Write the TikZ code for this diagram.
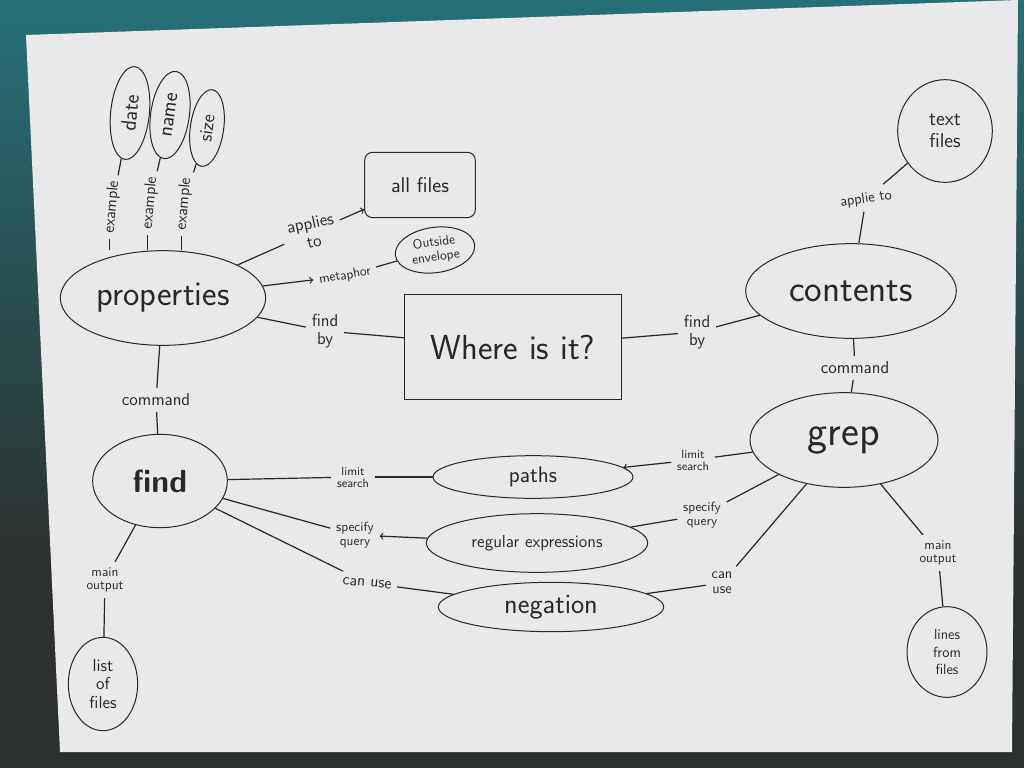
\documentclass[tikz,border=0pt]{standalone}
\usetikzlibrary{shapes.geometric}

\definecolor{ink}{RGB}{40,40,42}
\definecolor{paper}{RGB}{233,233,236}
\definecolor{bgtop}{RGB}{38,112,120}
\definecolor{bgdark}{RGB}{44,48,46}

\tikzset{every picture/.style={line width=0.75pt}}
\tikzset{
  concept/.style={draw=ink, ellipse, inner sep=0pt, text=ink, font=\sffamily},
  lbl/.style={text=ink, align=center, inner sep=4pt, font=\sffamily\fontsize{10}{10}\selectfont},
  biglbl/.style={lbl, font=\sffamily\fontsize{13}{14}\selectfont},
  link/.style={draw=ink, line width=0.9pt},
}

\begin{document}
\begin{tikzpicture}[x=0.75pt,y=0.75pt,yscale=-1]
\useasboundingbox (0,0) rectangle (1024,768);

%Background and sheet
\fill[bgdark] (0,0) rectangle (1024,768);
\shade[top color=bgtop, bottom color=bgdark] (0,0) rectangle (1024,560);
\fill[paper] (26,35) -- (1018,0) -- (1012,752) -- (60,752) -- cycle;

%Shape: Ellipse
\node[concept, minimum width=154pt, minimum height=71pt, font=\sffamily\fontsize{26}{26}\selectfont] (properties) at (163,298) {properties};
%Shape: Ellipse
\node[concept, rotate=84, minimum width=70pt, minimum height=29pt, font=\sffamily\fontsize{16}{16}\selectfont] (date) at (130,113) {date};
\node[concept, rotate=82, minimum width=66pt, minimum height=29pt, font=\sffamily\fontsize{16}{16}\selectfont] (name) at (170,115) {name};
\node[concept, rotate=82, minimum width=58pt, minimum height=25pt, font=\sffamily\fontsize{14}{14}\selectfont] (size) at (207,128) {size};
%Shape: Rectangle
\node[draw=ink, rounded corners=6pt, minimum width=83pt, minimum height=49pt, text=ink, font=\sffamily\fontsize{16}{16}\selectfont] (allfiles) at (420,185) {all files};
%Shape: Ellipse
\node[concept, rotate=8, minimum width=60pt, minimum height=34pt, align=center, font=\sffamily\fontsize{10}{11}\selectfont] (envelope) at (435,250) {Outside\\envelope};
%Shape: Rectangle
\node[draw=ink, minimum width=163pt, minimum height=79pt, text=ink, font=\sffamily\fontsize{26}{26}\selectfont] (where) at (513,347) {Where is it?};
%Shape: Ellipse
\node[concept, minimum width=158pt, minimum height=71pt, font=\sffamily\fontsize{28}{28}\selectfont] (contents) at (851,291) {contents};
\node[concept, minimum width=71pt, minimum height=77pt, align=center, font=\sffamily\fontsize{15}{16}\selectfont] (textfiles) at (945,131) {text\\files};
\node[concept, minimum width=141pt, minimum height=71pt, font=\sffamily\fontsize{32}{32}\selectfont] (grep) at (844,440) {grep};
\node[concept, minimum width=101pt, minimum height=70pt, font=\sffamily\bfseries\fontsize{24}{24}\selectfont] (find) at (160,481) {find};
\node[concept, minimum width=52pt, minimum height=70pt, align=center, font=\sffamily\fontsize{13}{14}\selectfont] (listfiles) at (103,684) {list\\of\\files};
\node[concept, minimum width=60pt, minimum height=68pt, align=center, font=\sffamily\fontsize{11}{13}\selectfont] (linesfiles) at (947,652) {lines\\from\\files};
\node[concept, minimum width=150pt, minimum height=32pt, font=\sffamily\fontsize{17}{17}\selectfont] (paths) at (533,477) {paths};
\node[concept, minimum width=166pt, minimum height=44pt, font=\sffamily\fontsize{13}{13}\selectfont] (regex) at (537,543) {regular expressions};
\node[concept, minimum width=169pt, minimum height=37pt, font=\sffamily\fontsize{21}{21}\selectfont] (negation) at (551,607) {negation};

% Text Node
\node[lbl, rotate=85, font=\sffamily\fontsize{12}{12}\selectfont] (exone) at (112,207) {example};
\node[lbl, rotate=85, font=\sffamily\fontsize{12}{12}\selectfont] (extwo) at (150,203) {example};
\node[lbl, rotate=85, font=\sffamily\fontsize{12}{12}\selectfont] (exthree) at (184,204) {example};
\node[biglbl, rotate=12] (applies) at (312,232) {applies\\to};
\node[lbl, rotate=10] (metaphor) at (345,276) {metaphor};
\node[biglbl] (findbyl) at (325,331) {find\\by};
\node[biglbl] (findbyr) at (697,332) {find\\by};
\node[lbl, rotate=8, font=\sffamily\fontsize{11}{11}\selectfont] (applieto) at (866,199) {applie to};
\node[biglbl] (cmdl) at (156,400) {command};
\node[biglbl] (cmdr) at (855,368) {command};
\node[lbl] (outl) at (105,580) {main\\output};
\node[lbl] (outr) at (938,553) {main\\output};
\node[lbl, font=\sffamily\fontsize{9}{9}\selectfont] (limitl) at (353,477) {limit\\search};
\node[lbl] (specl) at (355,535) {specify\\query};
\node[lbl, rotate=-5, font=\sffamily\fontsize{12}{12}\selectfont] (canl) at (367,583) {can use};
\node[lbl, font=\sffamily\fontsize{9}{9}\selectfont] (limitr) at (693,460) {limit\\search};
\node[lbl] (specr) at (702,515) {specify\\query};
\node[lbl, font=\sffamily\fontsize{11}{11}\selectfont] (canr) at (722,583) {can\\use};

%Straight Lines
\draw[link] (exone.west) -- (exone.west |- properties.north);
\draw[link] (extwo.west) -- (extwo.west |- properties.north);
\draw[link] (exthree.west) -- (exthree.west |- properties.north);
\draw[link] (exone) -- (date);
\draw[link] (extwo) -- (name);
\draw[link] (exthree) -- (size);
\draw[link] (properties) -- (applies);
\draw[link,->] (applies) -- (allfiles);
\draw[link,->] (properties) -- (metaphor);
\draw[link] (metaphor) -- (envelope);
\draw[link] (properties) -- (findbyl);
\draw[link] (findbyl) -- (where);
\draw[link] (where) -- (findbyr);
\draw[link] (findbyr) -- (contents);
\draw[link] (contents) -- (applieto);
\draw[link] (applieto) -- (textfiles);
\draw[link] (contents) -- (cmdr);
\draw[link] (cmdr) -- (grep);
\draw[link] (properties) -- (cmdl);
\draw[link] (cmdl) -- (find);
\draw[link] (find) -- (outl);
\draw[link] (outl) -- (listfiles);
\draw[link] (grep) -- (outr);
\draw[link] (outr) -- (linesfiles);
\draw[link] (find) -- (limitl);
\draw[link] (limitl) -- (paths);
\draw[link] (find) -- (specl);
\draw[link,->] (regex) -- (specl);
\draw[link] (find) -- (canl);
\draw[link] (canl) -- (negation);
\draw[link] (grep) -- (limitr);
\draw[link,->] (limitr) -- (paths);
\draw[link] (grep) -- (specr);
\draw[link] (specr) -- (regex);
\draw[link] (grep) -- (canr);
\draw[link] (canr) -- (negation);

\end{tikzpicture}
\end{document}
